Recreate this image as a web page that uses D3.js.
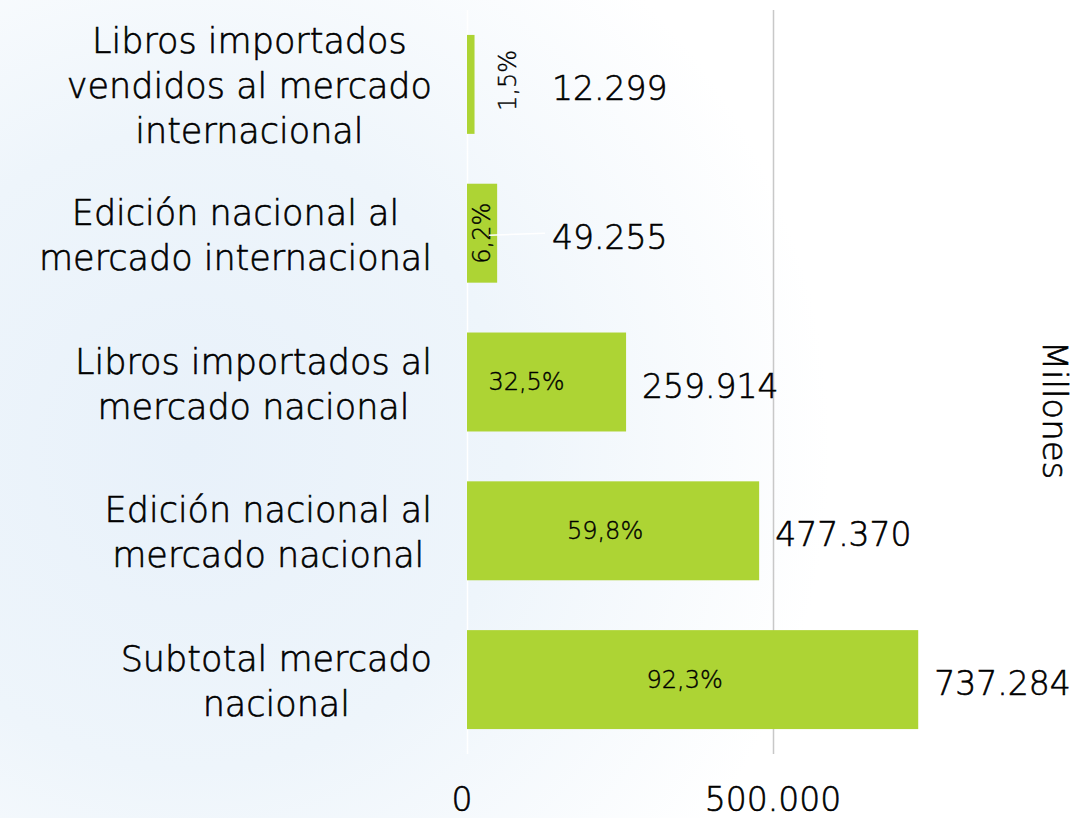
<!DOCTYPE html>
<html>
<head>
<meta charset="utf-8">
<script src="https://cdn.jsdelivr.net/npm/d3@7"></script>
<style>
  html, body { margin: 0; padding: 0; background: #fff; }
  svg { display: block; }
  text { font-family: "DejaVu Sans", sans-serif; fill: #000; font-weight: 300; stroke: #000; stroke-width: 0.6px; }
</style>
</head>
<body>
<svg id="chart" width="1074" height="818"></svg>
<script>
// ---- data ----
const categoryLines = [
  ["Libros importados", "vendidos al mercado", "internacional"],
  ["Edición nacional al", "mercado internacional"],
  ["Libros importados al", "mercado nacional"],
  ["Edición nacional al", "mercado nacional"],
  ["Subtotal mercado", "nacional"]
];
const values = [12299, 49255, 259914, 477370, 737284];
const shares = ["1,5%", "6,2%", "32,5%", "59,8%", "92,3%"];
const xTicks = [0, 500000];
const axisTitle = "Millones";

// ---- setup ----
const W = 1074, H = 818;
const svg = d3.select("#chart");
const locale = d3.formatLocale({ decimal: ",", thousands: ".", grouping: [3], currency: ["", ""] });
const fmt = locale.format(",d");
const categories = categoryLines.map(l => l.join(" "));

// background
const defs = svg.append("defs");
const rg = defs.append("radialGradient").attr("id", "bg")
  .attr("gradientUnits", "userSpaceOnUse")
  .attr("cx", 190).attr("cy", 450).attr("r", 640);
rg.append("stop").attr("offset", "0").attr("stop-color", "#e8f1fa");
rg.append("stop").attr("offset", "0.5").attr("stop-color", "#eef5fb");
rg.append("stop").attr("offset", "1").attr("stop-color", "#ffffff");
svg.append("rect").attr("width", W).attr("height", H).attr("fill", "url(#bg)");

const x = d3.scaleLinear().domain([0, 1000000]).range([467, 1079]);
const y = d3.scaleBand().domain(categories).range([10, 754]).paddingInner(0.335).paddingOuter(0.1675);

// gridlines
const grid = svg.append("g").attr("transform", `translate(0,${y.range()[0]})`)
  .call(d3.axisBottom(x).tickValues(xTicks).tickSize(y.range()[1] - y.range()[0]).tickFormat(""));
grid.select(".domain").remove();
grid.selectAll(".tick line")
  .attr("stroke", d => d === 0 ? "#ffffff" : "#c8c8c8")
  .attr("stroke-width", 1.5);

// bars
svg.append("g").selectAll("rect").data(values).join("rect")
  .attr("x", x(0))
  .attr("y", (d, i) => y(categories[i]))
  .attr("width", d => x(d) - x(0))
  .attr("height", y.bandwidth())
  .attr("fill", "#add434");

// percentage labels
svg.append("g").selectAll("text").data(values).join("text")
  .style("stroke-width", "0.4px")
  .each(function (d, i) {
    const w = x(d) - x(0);
    const cy = y(categories[i]) + y.bandwidth() / 2;
    const t = d3.select(this).text(shares[i])
      .attr("font-size", 24)
      .attr("text-anchor", "middle")
      .attr("dominant-baseline", "central");
    if (w < 15) {
      t.attr("transform", `translate(${x(d) + 33},${cy - 4}) rotate(-90)`);
    } else if (w < 50) {
      t.attr("transform", `translate(${x(0) + w / 2},${cy}) rotate(-90)`);
    } else {
      t.attr("x", x(0) + w / 2 - (w < 200 ? 20 : 8)).attr("y", cy);
    }
  });

// leader line for small bar
values.forEach((d, i) => {
  const w = x(d) - x(0);
  if (w >= 15 && w < 50) {
    const cy = y(categories[i]) + y.bandwidth() / 2;
    svg.append("line").attr("x1", x(d) - 8).attr("x2", x(0) + 78)
      .attr("y1", cy + 2).attr("y2", cy).attr("stroke", "#ffffff").attr("stroke-width", 1.5);
  }
});

// value labels
svg.append("g").selectAll("text").data(values).join("text")
  .attr("x", d => Math.max(x(d) + 16, x(0) + 85))
  .attr("y", (d, i) => y(categories[i]) + y.bandwidth() / 2 + 4)
  .attr("dominant-baseline", "central")
  .attr("font-size", 33)
  .text(d => fmt(d));

// category labels
const labelRight = 432;
const lineH = 45;
const catG = svg.append("g");
categoryLines.forEach((lines, i) => {
  const cy = y(categories[i]) + y.bandwidth() / 2;
  const g = catG.append("g");
  const texts = g.selectAll("text").data(lines).join("text")
    .attr("font-size", 35)
    .attr("text-anchor", "middle")
    .attr("dominant-baseline", "central")
    .attr("y", (l, j) => cy + 2 + (j - (lines.length - 1) / 2) * lineH)
    .text(l => l);
  let maxW = 0;
  texts.each(function () { maxW = Math.max(maxW, this.getComputedTextLength()); });
  texts.attr("x", labelRight - maxW / 2);
});

// x tick labels
svg.append("g").selectAll("text").data(xTicks).join("text")
  .attr("x", d => x(d) - (d === 0 ? 5 : 0))
  .attr("y", 811)
  .attr("text-anchor", "middle")
  .attr("font-size", 33)
  .text(d => fmt(d));

// axis title
svg.append("text")
  .attr("transform", `translate(1055,410) rotate(90)`)
  .attr("text-anchor", "middle")
  .attr("dominant-baseline", "central")
  .attr("font-size", 34)
  .text(axisTitle);
</script>
</body>
</html>
